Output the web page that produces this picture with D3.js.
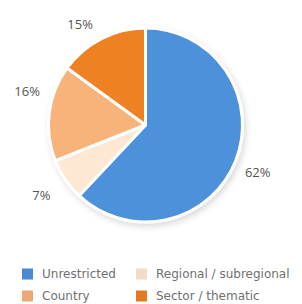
<!DOCTYPE html>
<html>
<head>
<meta charset="utf-8">
<script src="https://cdn.jsdelivr.net/npm/d3@7"></script>
<style>
  body { margin: 0; background: #fff; }
  svg { display: block; font-family: "Open Sans", "DejaVu Sans", sans-serif; }
</style>
</head>
<body>
<div id="chart"></div>
<script>
// slice data, clockwise from 12 o'clock
const categories = ['Unrestricted', 'Regional / subregional', 'Country', 'Sector / thematic'];
const shares = [62, 7, 16, 15];
const sliceColors = ['#4a89d0', '#f2dcc8', '#ebaa74', '#e27a22'];
const sliceLabels = ['62%', '7%', '16%', '15%'];

const W = 302, H = 304;
const cx = 145.5, cy = 125, R = 97;

const svg = d3.select('#chart').append('svg')
  .attr('width', W)
  .attr('height', H);

const defs = svg.append('defs');

// faint shadow under the pie
const shadow = defs.append('filter').attr('id', 'shadow')
  .attr('x', '-20%').attr('y', '-20%').attr('width', '140%').attr('height', '140%');
shadow.append('feDropShadow')
  .attr('dx', 2).attr('dy', 3).attr('stdDeviation', 3)
  .attr('flood-color', '#000').attr('flood-opacity', 0.15);

// mild shading, slightly lighter right at the rim
sliceColors.forEach((c, i) => {
  const g = defs.append('radialGradient')
    .attr('id', 'grad' + i)
    .attr('gradientUnits', 'userSpaceOnUse')
    .attr('cx', cx).attr('cy', cy).attr('r', R)
    .attr('fx', cx).attr('fy', cy);
  g.append('stop').attr('offset', '0%').attr('stop-color', c);
  g.append('stop').attr('offset', '88%').attr('stop-color', c);
  g.append('stop').attr('offset', '100%').attr('stop-color', d3.color(c).brighter(0.15));
});

const pie = d3.pie().sort(null).value(d => d)(shares);
const arc = d3.arc().innerRadius(0).outerRadius(R);

const g = svg.append('g').attr('transform', `translate(${cx},${cy})`);

g.append('g')
  .attr('filter', 'url(#shadow)')
  .selectAll('path')
  .data(pie)
  .join('path')
  .attr('d', arc)
  .attr('fill', (d, i) => `url(#grad${i})`)
  .attr('stroke', '#fff')
  .attr('stroke-width', 3)
  .attr('stroke-linejoin', 'round');

// percentage labels outside the pie (small angle/radius tweaks per label)
const labelTurn = [1.5, 0, 8.5, -6];
const labelRad = [122, 126, 123, 120];
g.selectAll('text.pct')
  .data(pie)
  .join('text')
  .attr('class', 'pct')
  .attr('transform', (d, i) => {
    const a = (d.startAngle + d.endAngle) / 2 + labelTurn[i] * Math.PI / 180;
    return `translate(${Math.sin(a) * labelRad[i]},${-Math.cos(a) * labelRad[i]})`;
  })
  .attr('text-anchor', 'middle')
  .attr('dy', '0.35em')
  .attr('fill', '#555')
  .attr('font-size', '13px')
  .text((d, i) => sliceLabels[i]);

// legend, two columns
const legend = svg.append('g');
const colX = [22, 136];
const rowY = [274, 296];
categories.forEach((name, i) => {
  const x = colX[i % 2], y = rowY[Math.floor(i / 2)];
  legend.append('rect')
    .attr('x', x).attr('y', y - 5.5)
    .attr('width', 11).attr('height', 11)
    .attr('fill', sliceColors[i]);
  legend.append('text')
    .attr('x', x + 20).attr('y', y)
    .attr('dy', '0.35em')
    .attr('fill', '#707070')
    .attr('font-family', '"DejaVu Sans", sans-serif')
    .attr('font-size', '12px')
    .text(name);
});
</script>
</body>
</html>
